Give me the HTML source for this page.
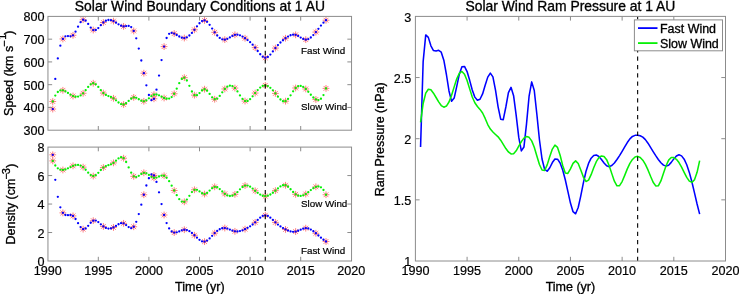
<!DOCTYPE html>
<html lang="en"><head><meta charset="utf-8"><title>Solar Wind Boundary Conditions at 1 AU</title>
<style>html,body{margin:0;padding:0;background:#fff}svg{display:block}</style></head>
<body>
<svg width="739" height="294" viewBox="0 0 739 294" font-family='"Liberation Sans", Arial, Helvetica, sans-serif' fill="#000">
<style>text{stroke:#000;stroke-width:.32px}.t text{stroke-width:.2px}.a{stroke-width:.2px}</style>
<rect width="739" height="294" fill="#fff"/>
<path d="M49.36 109.06h6.8M52.76 105.66v6.8M50.36 106.65l4.81 4.81M50.36 111.46l4.81 -4.81M59.48 38.94h6.8M62.88 35.54v6.8M60.48 36.54l4.81 4.81M60.48 41.34l4.81 -4.81M69.6 35.29h6.8M73 31.89v6.8M70.6 32.88l4.81 4.81M70.6 37.69l4.81 -4.81M79.72 19.75h6.8M83.12 16.35v6.8M80.72 17.35l4.81 4.81M80.72 22.16l4.81 -4.81M89.84 30.03h6.8M93.24 26.63v6.8M90.84 27.63l4.81 4.81M90.84 32.44l4.81 -4.81M99.96 22.5h6.8M103.36 19.1v6.8M100.96 20.09l4.81 4.81M100.96 24.9l4.81 -4.81M110.08 21.12h6.8M113.48 17.72v6.8M111.08 18.72l4.81 4.81M111.08 23.53l4.81 -4.81M120.2 26.38h6.8M123.6 22.98v6.8M121.2 23.97l4.81 4.81M121.2 28.78l4.81 -4.81M130.32 30.95h6.8M133.72 27.55v6.8M131.32 28.54l4.81 4.81M131.32 33.35l4.81 -4.81M140.44 73.2h6.8M143.84 69.8v6.8M141.44 70.8l4.81 4.81M141.44 75.6l4.81 -4.81M150.56 98.78h6.8M153.96 95.38v6.8M151.56 96.38l4.81 4.81M151.56 101.18l4.81 -4.81M160.68 46.59h6.8M164.08 43.19v6.8M161.68 44.19l4.81 4.81M161.68 49l4.81 -4.81M170.8 33.55h6.8M174.2 30.15v6.8M171.8 31.15l4.81 4.81M171.8 35.95l4.81 -4.81M180.92 38.03h6.8M184.32 34.63v6.8M181.92 35.62l4.81 4.81M181.92 40.43l4.81 -4.81M191.04 29.8h6.8M194.44 26.4v6.8M192.04 27.4l4.81 4.81M192.04 32.21l4.81 -4.81M201.16 20.44h6.8M204.56 17.04v6.8M202.16 18.04l4.81 4.81M202.16 22.84l4.81 -4.81M211.28 32.32h6.8M214.68 28.92v6.8M212.28 29.91l4.81 4.81M212.28 34.72l4.81 -4.81M221.4 39.63h6.8M224.8 36.23v6.8M222.4 37.22l4.81 4.81M222.4 42.03l4.81 -4.81M231.52 34.83h6.8M234.92 31.43v6.8M232.52 32.42l4.81 4.81M232.52 37.23l4.81 -4.81M241.64 38.25h6.8M245.04 34.85v6.8M242.64 35.85l4.81 4.81M242.64 40.66l4.81 -4.81M251.76 47.62h6.8M255.16 44.22v6.8M252.76 45.22l4.81 4.81M252.76 50.02l4.81 -4.81M261.88 57.76h6.8M265.28 54.36v6.8M262.88 55.36l4.81 4.81M262.88 60.16l4.81 -4.81M272 48.08h6.8M275.4 44.68v6.8M273 45.67l4.81 4.81M273 50.48l4.81 -4.81M282.12 38.25h6.8M285.52 34.85v6.8M283.12 35.85l4.81 4.81M283.12 40.66l4.81 -4.81M292.24 34.83h6.8M295.64 31.43v6.8M293.24 32.42l4.81 4.81M293.24 37.23l4.81 -4.81M302.36 39.63h6.8M305.76 36.23v6.8M303.36 37.22l4.81 4.81M303.36 42.03l4.81 -4.81M312.48 32.09h6.8M315.88 28.69v6.8M313.48 29.68l4.81 4.81M313.48 34.49l4.81 -4.81M322.6 20.21h6.8M326 16.81v6.8M323.6 17.81l4.81 4.81M323.6 22.62l4.81 -4.81" stroke="#ff0000" stroke-width="0.5" fill="none"/>
<path d="M49.36 101.52h6.8M52.76 98.12v6.8M50.36 99.12l4.81 4.81M50.36 103.93l4.81 -4.81M59.48 90.33h6.8M62.88 86.93v6.8M60.48 87.93l4.81 4.81M60.48 92.73l4.81 -4.81M69.6 96.04h6.8M73 92.64v6.8M70.6 93.64l4.81 4.81M70.6 98.44l4.81 -4.81M79.72 93.3h6.8M83.12 89.9v6.8M80.72 90.9l4.81 4.81M80.72 95.7l4.81 -4.81M89.84 83.25h6.8M93.24 79.85v6.8M90.84 80.85l4.81 4.81M90.84 85.65l4.81 -4.81M99.96 93.07h6.8M103.36 89.67v6.8M100.96 90.67l4.81 4.81M100.96 95.47l4.81 -4.81M110.08 98.32h6.8M113.48 94.92v6.8M111.08 95.92l4.81 4.81M111.08 100.73l4.81 -4.81M120.2 104.49h6.8M123.6 101.09v6.8M121.2 102.09l4.81 4.81M121.2 106.89l4.81 -4.81M130.32 97.41h6.8M133.72 94.01v6.8M131.32 95.01l4.81 4.81M131.32 99.81l4.81 -4.81M140.44 101.29h6.8M143.84 97.89v6.8M141.44 98.89l4.81 4.81M141.44 103.7l4.81 -4.81M150.56 94.67h6.8M153.96 91.27v6.8M151.56 92.27l4.81 4.81M151.56 97.07l4.81 -4.81M160.68 97.98h6.8M164.08 94.58v6.8M161.68 95.58l4.81 4.81M161.68 100.39l4.81 -4.81M170.8 93.76h6.8M174.2 90.36v6.8M171.8 91.35l4.81 4.81M171.8 96.16l4.81 -4.81M180.92 77.65h6.8M184.32 74.25v6.8M181.92 75.25l4.81 4.81M181.92 80.06l4.81 -4.81M191.04 95.13h6.8M194.44 91.73v6.8M192.04 92.72l4.81 4.81M192.04 97.53l4.81 -4.81M201.16 89.19h6.8M204.56 85.79v6.8M202.16 86.78l4.81 4.81M202.16 91.59l4.81 -4.81M211.28 99.24h6.8M214.68 95.84v6.8M212.28 96.83l4.81 4.81M212.28 101.64l4.81 -4.81M221.4 88.96h6.8M224.8 85.56v6.8M222.4 86.56l4.81 4.81M222.4 91.36l4.81 -4.81M231.52 88.05h6.8M234.92 84.65v6.8M232.52 85.64l4.81 4.81M232.52 90.45l4.81 -4.81M241.64 101.06h6.8M245.04 97.66v6.8M242.64 98.66l4.81 4.81M242.64 103.47l4.81 -4.81M251.76 93.07h6.8M255.16 89.67v6.8M252.76 90.67l4.81 4.81M252.76 95.47l4.81 -4.81M261.88 85.4h6.8M265.28 82v6.8M262.88 82.99l4.81 4.81M262.88 87.8l4.81 -4.81M272 93.41h6.8M275.4 90.01v6.8M273 91.01l4.81 4.81M273 95.82l4.81 -4.81M282.12 101.18h6.8M285.52 97.78v6.8M283.12 98.77l4.81 4.81M283.12 103.58l4.81 -4.81M292.24 87.98h6.8M295.64 84.58v6.8M293.24 85.57l4.81 4.81M293.24 90.38l4.81 -4.81M302.36 88.96h6.8M305.76 85.56v6.8M303.36 86.56l4.81 4.81M303.36 91.36l4.81 -4.81M312.48 99.47h6.8M315.88 96.07v6.8M313.48 97.06l4.81 4.81M313.48 101.87l4.81 -4.81M322.6 88.39h6.8M326 84.99v6.8M323.6 85.98l4.81 4.81M323.6 90.79l4.81 -4.81" stroke="#ff0000" stroke-width="0.5" fill="none"/>
<g fill="#0000ff"><circle cx="52.76" cy="109.06" r="1.15"/><circle cx="55.29" cy="78.92" r="1.15"/><circle cx="57.82" cy="58.4" r="1.15"/><circle cx="60.35" cy="45.68" r="1.15"/><circle cx="62.88" cy="38.94" r="1.15"/><circle cx="65.41" cy="36.35" r="1.15"/><circle cx="67.94" cy="36.1" r="1.15"/><circle cx="70.47" cy="36.35" r="1.15"/><circle cx="73" cy="35.29" r="1.15"/><circle cx="75.53" cy="31.69" r="1.15"/><circle cx="78.06" cy="26.72" r="1.15"/><circle cx="80.59" cy="22.15" r="1.15"/><circle cx="83.12" cy="19.75" r="1.15"/><circle cx="85.65" cy="20.72" r="1.15"/><circle cx="88.18" cy="23.9" r="1.15"/><circle cx="90.71" cy="27.58" r="1.15"/><circle cx="93.24" cy="30.03" r="1.15"/><circle cx="95.77" cy="30" r="1.15"/><circle cx="98.3" cy="28.05" r="1.15"/><circle cx="100.83" cy="25.21" r="1.15"/><circle cx="103.36" cy="22.5" r="1.15"/><circle cx="105.89" cy="20.75" r="1.15"/><circle cx="108.42" cy="20.02" r="1.15"/><circle cx="110.95" cy="20.19" r="1.15"/><circle cx="113.48" cy="21.12" r="1.15"/><circle cx="116.01" cy="22.64" r="1.15"/><circle cx="118.54" cy="24.32" r="1.15"/><circle cx="121.07" cy="25.72" r="1.15"/><circle cx="123.6" cy="26.38" r="1.15"/><circle cx="126.13" cy="26.12" r="1.15"/><circle cx="128.66" cy="25.94" r="1.15"/><circle cx="131.19" cy="27.12" r="1.15"/><circle cx="133.72" cy="30.95" r="1.15"/><circle cx="136.25" cy="38.31" r="1.15"/><circle cx="138.78" cy="48.53" r="1.15"/><circle cx="141.31" cy="60.52" r="1.15"/><circle cx="143.84" cy="73.2" r="1.15"/><circle cx="146.37" cy="85.32" r="1.15"/><circle cx="148.9" cy="95" r="1.15"/><circle cx="151.43" cy="100.17" r="1.15"/><circle cx="153.96" cy="98.78" r="1.15"/><circle cx="156.49" cy="89.71" r="1.15"/><circle cx="159.02" cy="75.61" r="1.15"/><circle cx="161.55" cy="60.04" r="1.15"/><circle cx="164.08" cy="46.59" r="1.15"/><circle cx="166.61" cy="38.02" r="1.15"/><circle cx="169.14" cy="33.85" r="1.15"/><circle cx="171.67" cy="32.79" r="1.15"/><circle cx="174.2" cy="33.55" r="1.15"/><circle cx="176.73" cy="34.98" r="1.15"/><circle cx="179.26" cy="36.49" r="1.15"/><circle cx="181.79" cy="37.66" r="1.15"/><circle cx="184.32" cy="38.03" r="1.15"/><circle cx="186.85" cy="37.28" r="1.15"/><circle cx="189.38" cy="35.51" r="1.15"/><circle cx="191.91" cy="32.95" r="1.15"/><circle cx="194.44" cy="29.8" r="1.15"/><circle cx="196.97" cy="26.37" r="1.15"/><circle cx="199.5" cy="23.23" r="1.15"/><circle cx="202.03" cy="21.04" r="1.15"/><circle cx="204.56" cy="20.44" r="1.15"/><circle cx="207.09" cy="21.87" r="1.15"/><circle cx="209.62" cy="24.81" r="1.15"/><circle cx="212.15" cy="28.54" r="1.15"/><circle cx="214.68" cy="32.32" r="1.15"/><circle cx="217.21" cy="35.51" r="1.15"/><circle cx="219.74" cy="37.88" r="1.15"/><circle cx="222.27" cy="39.3" r="1.15"/><circle cx="224.8" cy="39.63" r="1.15"/><circle cx="227.33" cy="38.85" r="1.15"/><circle cx="229.86" cy="37.41" r="1.15"/><circle cx="232.39" cy="35.88" r="1.15"/><circle cx="234.92" cy="34.83" r="1.15"/><circle cx="237.45" cy="34.68" r="1.15"/><circle cx="239.98" cy="35.35" r="1.15"/><circle cx="242.51" cy="36.61" r="1.15"/><circle cx="245.04" cy="38.25" r="1.15"/><circle cx="247.57" cy="40.11" r="1.15"/><circle cx="250.1" cy="42.22" r="1.15"/><circle cx="252.63" cy="44.69" r="1.15"/><circle cx="255.16" cy="47.62" r="1.15"/><circle cx="257.69" cy="50.98" r="1.15"/><circle cx="260.22" cy="54.24" r="1.15"/><circle cx="262.75" cy="56.72" r="1.15"/><circle cx="265.28" cy="57.76" r="1.15"/><circle cx="267.81" cy="56.9" r="1.15"/><circle cx="270.34" cy="54.57" r="1.15"/><circle cx="272.87" cy="51.42" r="1.15"/><circle cx="275.4" cy="48.08" r="1.15"/><circle cx="277.93" cy="45.08" r="1.15"/><circle cx="280.46" cy="42.48" r="1.15"/><circle cx="282.99" cy="40.23" r="1.15"/><circle cx="285.52" cy="38.25" r="1.15"/><circle cx="288.05" cy="36.55" r="1.15"/><circle cx="290.58" cy="35.27" r="1.15"/><circle cx="293.11" cy="34.63" r="1.15"/><circle cx="295.64" cy="34.83" r="1.15"/><circle cx="298.17" cy="35.95" r="1.15"/><circle cx="300.7" cy="37.53" r="1.15"/><circle cx="303.23" cy="38.95" r="1.15"/><circle cx="305.76" cy="39.63" r="1.15"/><circle cx="308.29" cy="39.09" r="1.15"/><circle cx="310.82" cy="37.48" r="1.15"/><circle cx="313.35" cy="35.05" r="1.15"/><circle cx="315.88" cy="32.09" r="1.15"/><circle cx="318.41" cy="28.85" r="1.15"/><circle cx="320.94" cy="25.61" r="1.15"/><circle cx="323.47" cy="22.64" r="1.15"/><circle cx="326" cy="20.21" r="1.15"/></g>
<g fill="#06f006"><circle cx="52.76" cy="101.52" r="1.15"/><circle cx="55.29" cy="95.53" r="1.15"/><circle cx="57.82" cy="91.98" r="1.15"/><circle cx="60.35" cy="90.4" r="1.15"/><circle cx="62.88" cy="90.33" r="1.15"/><circle cx="65.41" cy="91.32" r="1.15"/><circle cx="67.94" cy="92.91" r="1.15"/><circle cx="70.47" cy="94.64" r="1.15"/><circle cx="73" cy="96.04" r="1.15"/><circle cx="75.53" cy="96.73" r="1.15"/><circle cx="78.06" cy="96.55" r="1.15"/><circle cx="80.59" cy="95.44" r="1.15"/><circle cx="83.12" cy="93.3" r="1.15"/><circle cx="85.65" cy="90.22" r="1.15"/><circle cx="88.18" cy="86.92" r="1.15"/><circle cx="90.71" cy="84.3" r="1.15"/><circle cx="93.24" cy="83.25" r="1.15"/><circle cx="95.77" cy="84.35" r="1.15"/><circle cx="98.3" cy="86.97" r="1.15"/><circle cx="100.83" cy="90.19" r="1.15"/><circle cx="103.36" cy="93.07" r="1.15"/><circle cx="105.89" cy="94.93" r="1.15"/><circle cx="108.42" cy="96.07" r="1.15"/><circle cx="110.95" cy="97.02" r="1.15"/><circle cx="113.48" cy="98.32" r="1.15"/><circle cx="116.01" cy="100.31" r="1.15"/><circle cx="118.54" cy="102.48" r="1.15"/><circle cx="121.07" cy="104.11" r="1.15"/><circle cx="123.6" cy="104.49" r="1.15"/><circle cx="126.13" cy="103.2" r="1.15"/><circle cx="128.66" cy="100.93" r="1.15"/><circle cx="131.19" cy="98.67" r="1.15"/><circle cx="133.72" cy="97.41" r="1.15"/><circle cx="136.25" cy="97.81" r="1.15"/><circle cx="138.78" cy="99.23" r="1.15"/><circle cx="141.31" cy="100.71" r="1.15"/><circle cx="143.84" cy="101.29" r="1.15"/><circle cx="146.37" cy="100.31" r="1.15"/><circle cx="148.9" cy="98.31" r="1.15"/><circle cx="151.43" cy="96.15" r="1.15"/><circle cx="153.96" cy="94.67" r="1.15"/><circle cx="156.49" cy="94.5" r="1.15"/><circle cx="159.02" cy="95.34" r="1.15"/><circle cx="161.55" cy="96.68" r="1.15"/><circle cx="164.08" cy="97.98" r="1.15"/><circle cx="166.61" cy="98.76" r="1.15"/><circle cx="169.14" cy="98.58" r="1.15"/><circle cx="171.67" cy="97.05" r="1.15"/><circle cx="174.2" cy="93.76" r="1.15"/><circle cx="176.73" cy="88.66" r="1.15"/><circle cx="179.26" cy="83.13" r="1.15"/><circle cx="181.79" cy="78.88" r="1.15"/><circle cx="184.32" cy="77.65" r="1.15"/><circle cx="186.85" cy="80.5" r="1.15"/><circle cx="189.38" cy="85.86" r="1.15"/><circle cx="191.91" cy="91.48" r="1.15"/><circle cx="194.44" cy="95.13" r="1.15"/><circle cx="196.97" cy="95.25" r="1.15"/><circle cx="199.5" cy="93.05" r="1.15"/><circle cx="202.03" cy="90.4" r="1.15"/><circle cx="204.56" cy="89.19" r="1.15"/><circle cx="207.09" cy="90.7" r="1.15"/><circle cx="209.62" cy="93.94" r="1.15"/><circle cx="212.15" cy="97.32" r="1.15"/><circle cx="214.68" cy="99.24" r="1.15"/><circle cx="217.21" cy="98.56" r="1.15"/><circle cx="219.74" cy="95.91" r="1.15"/><circle cx="222.27" cy="92.35" r="1.15"/><circle cx="224.8" cy="88.96" r="1.15"/><circle cx="227.33" cy="86.64" r="1.15"/><circle cx="229.86" cy="85.66" r="1.15"/><circle cx="232.39" cy="86.09" r="1.15"/><circle cx="234.92" cy="88.05" r="1.15"/><circle cx="237.45" cy="91.42" r="1.15"/><circle cx="239.98" cy="95.4" r="1.15"/><circle cx="242.51" cy="98.95" r="1.15"/><circle cx="245.04" cy="101.06" r="1.15"/><circle cx="247.57" cy="101.02" r="1.15"/><circle cx="250.1" cy="99.21" r="1.15"/><circle cx="252.63" cy="96.33" r="1.15"/><circle cx="255.16" cy="93.07" r="1.15"/><circle cx="257.69" cy="90.05" r="1.15"/><circle cx="260.22" cy="87.6" r="1.15"/><circle cx="262.75" cy="85.96" r="1.15"/><circle cx="265.28" cy="85.4" r="1.15"/><circle cx="267.81" cy="86.08" r="1.15"/><circle cx="270.34" cy="87.82" r="1.15"/><circle cx="272.87" cy="90.35" r="1.15"/><circle cx="275.4" cy="93.41" r="1.15"/><circle cx="277.93" cy="96.67" r="1.15"/><circle cx="280.46" cy="99.5" r="1.15"/><circle cx="282.99" cy="101.23" r="1.15"/><circle cx="285.52" cy="101.18" r="1.15"/><circle cx="288.05" cy="98.95" r="1.15"/><circle cx="290.58" cy="95.3" r="1.15"/><circle cx="293.11" cy="91.29" r="1.15"/><circle cx="295.64" cy="87.98" r="1.15"/><circle cx="298.17" cy="86.2" r="1.15"/><circle cx="300.7" cy="85.93" r="1.15"/><circle cx="303.23" cy="86.93" r="1.15"/><circle cx="305.76" cy="88.96" r="1.15"/><circle cx="308.29" cy="91.74" r="1.15"/><circle cx="310.82" cy="94.77" r="1.15"/><circle cx="313.35" cy="97.52" r="1.15"/><circle cx="315.88" cy="99.47" r="1.15"/><circle cx="318.41" cy="100.06" r="1.15"/><circle cx="320.94" cy="98.77" r="1.15"/><circle cx="323.47" cy="95.06" r="1.15"/><circle cx="326" cy="88.39" r="1.15"/></g>
<line x1="265.28" y1="130.2" x2="265.28" y2="16.4" stroke="#000" stroke-width="1.1" stroke-dasharray="4.3 4.04"/>
<path d="M98.3 130.2v-4.2M98.3 16.4v4.2M148.9 130.2v-4.2M148.9 16.4v4.2M199.5 130.2v-4.2M199.5 16.4v4.2M250.1 130.2v-4.2M250.1 16.4v4.2M300.7 130.2v-4.2M300.7 16.4v4.2M47.95 107.44h4.2M351.55 107.44h-4.2M47.95 84.68h4.2M351.55 84.68h-4.2M47.95 61.92h4.2M351.55 61.92h-4.2M47.95 39.16h4.2M351.55 39.16h-4.2" stroke="#8c8c8c" stroke-width="1" fill="none"/>
<rect x="47.95" y="16.4" width="303.6" height="113.8" fill="none" stroke="#8c8c8c" stroke-width="1"/>
<g class="t">
<text x="44.55" y="135.25" font-size="12.6" text-anchor="end">300</text>
<text x="44.55" y="112.49" font-size="12.6" text-anchor="end">400</text>
<text x="44.55" y="89.73" font-size="12.6" text-anchor="end">500</text>
<text x="44.55" y="66.97" font-size="12.6" text-anchor="end">600</text>
<text x="44.55" y="44.21" font-size="12.6" text-anchor="end">700</text>
<text x="44.55" y="21.45" font-size="12.6" text-anchor="end">800</text>
</g>
<text x="199.9" y="10.8" font-size="13.9" text-anchor="middle">Solar Wind Boundary Conditions at 1 AU</text>
<text x="301" y="53.6" font-size="9.8" class="a">Fast Wind</text>
<text x="301" y="109.5" font-size="9.8" class="a">Slow Wind</text>
<text transform="translate(13.2 73.2) rotate(-90)" font-size="12.5" text-anchor="middle">Speed (km s<tspan font-size="11" dy="-5.3" dx="-1">−</tspan><tspan font-size="10" dy="-1.8" dx="0.7">1</tspan><tspan dy="7.1" dx="-0.6">)</tspan></text>
<path d="M49.36 154.81h6.8M52.76 151.41v6.8M50.36 152.4l4.81 4.81M50.36 157.21l4.81 -4.81M59.48 212.87h6.8M62.88 209.47v6.8M60.48 210.47l4.81 4.81M60.48 215.28l4.81 -4.81M69.6 215.92h6.8M73 212.52v6.8M70.6 213.51l4.81 4.81M70.6 218.32l4.81 -4.81M79.72 229.16h6.8M83.12 225.76v6.8M80.72 226.76l4.81 4.81M80.72 231.56l4.81 -4.81M89.84 220.66h6.8M93.24 217.26v6.8M90.84 218.26l4.81 4.81M90.84 223.07l4.81 -4.81M99.96 226.47h6.8M103.36 223.07v6.8M100.96 224.06l4.81 4.81M100.96 228.87l4.81 -4.81M110.08 227.46h6.8M113.48 224.06v6.8M111.08 225.06l4.81 4.81M111.08 229.86l4.81 -4.81M120.2 223.35h6.8M123.6 219.95v6.8M121.2 220.95l4.81 4.81M121.2 225.76l4.81 -4.81M130.32 226.75h6.8M133.72 223.35v6.8M131.32 224.35l4.81 4.81M131.32 229.16l4.81 -4.81M140.44 194.74h6.8M143.84 191.34v6.8M141.44 192.34l4.81 4.81M141.44 197.15l4.81 -4.81M150.56 175.41h6.8M153.96 172.01v6.8M151.56 173.01l4.81 4.81M151.56 177.82l4.81 -4.81M160.68 215h6.8M164.08 211.6v6.8M161.68 212.59l4.81 4.81M161.68 217.4l4.81 -4.81M170.8 232.56h6.8M174.2 229.16v6.8M171.8 230.15l4.81 4.81M171.8 234.96l4.81 -4.81M180.92 229.73h6.8M184.32 226.33v6.8M181.92 227.32l4.81 4.81M181.92 232.13l4.81 -4.81M191.04 235.25h6.8M194.44 231.85v6.8M192.04 232.84l4.81 4.81M192.04 237.65l4.81 -4.81M201.16 241.62h6.8M204.56 238.22v6.8M202.16 239.22l4.81 4.81M202.16 244.03l4.81 -4.81M211.28 233.12h6.8M214.68 229.72v6.8M212.28 230.72l4.81 4.81M212.28 235.53l4.81 -4.81M221.4 228.03h6.8M224.8 224.63v6.8M222.4 225.62l4.81 4.81M222.4 230.43l4.81 -4.81M231.52 231.35h6.8M234.92 227.95v6.8M232.52 228.95l4.81 4.81M232.52 233.76l4.81 -4.81M241.64 229.16h6.8M245.04 225.76v6.8M242.64 226.76l4.81 4.81M242.64 231.56l4.81 -4.81M251.76 222.36h6.8M255.16 218.96v6.8M252.76 219.96l4.81 4.81M252.76 224.77l4.81 -4.81M261.88 215.28h6.8M265.28 211.88v6.8M262.88 212.88l4.81 4.81M262.88 217.68l4.81 -4.81M272 222.36h6.8M275.4 218.96v6.8M273 219.96l4.81 4.81M273 224.77l4.81 -4.81M282.12 229.44h6.8M285.52 226.04v6.8M283.12 227.04l4.81 4.81M283.12 231.85l4.81 -4.81M292.24 231.57h6.8M295.64 228.17v6.8M293.24 229.16l4.81 4.81M293.24 233.97l4.81 -4.81M302.36 228.17h6.8M305.76 224.77v6.8M303.36 225.76l4.81 4.81M303.36 230.57l4.81 -4.81M312.48 233.27h6.8M315.88 229.87v6.8M313.48 230.86l4.81 4.81M313.48 235.67l4.81 -4.81M322.6 241.48h6.8M326 238.08v6.8M323.6 239.08l4.81 4.81M323.6 243.88l4.81 -4.81" stroke="#ff0000" stroke-width="0.5" fill="none"/>
<path d="M49.36 160.9h6.8M52.76 157.5v6.8M50.36 158.49l4.81 4.81M50.36 163.3l4.81 -4.81M59.48 169.96h6.8M62.88 166.56v6.8M60.48 167.56l4.81 4.81M60.48 172.36l4.81 -4.81M69.6 165.85h6.8M73 162.45v6.8M70.6 163.45l4.81 4.81M70.6 168.26l4.81 -4.81M79.72 167.13h6.8M83.12 163.73v6.8M80.72 164.72l4.81 4.81M80.72 169.53l4.81 -4.81M89.84 176.05h6.8M93.24 172.65v6.8M90.84 173.65l4.81 4.81M90.84 178.45l4.81 -4.81M99.96 167.55h6.8M103.36 164.15v6.8M100.96 165.15l4.81 4.81M100.96 169.96l4.81 -4.81M110.08 162.88h6.8M113.48 159.48v6.8M111.08 160.47l4.81 4.81M111.08 165.28l4.81 -4.81M120.2 158.21h6.8M123.6 154.81v6.8M121.2 155.8l4.81 4.81M121.2 160.61l4.81 -4.81M130.32 176.33h6.8M133.72 172.93v6.8M131.32 173.93l4.81 4.81M131.32 178.74l4.81 -4.81M140.44 172.79h6.8M143.84 169.39v6.8M141.44 170.39l4.81 4.81M141.44 175.2l4.81 -4.81M150.56 177.89h6.8M153.96 174.49v6.8M151.56 175.49l4.81 4.81M151.56 180.3l4.81 -4.81M160.68 175.77h6.8M164.08 172.37v6.8M161.68 173.36l4.81 4.81M161.68 178.17l4.81 -4.81M170.8 190.5h6.8M174.2 187.1v6.8M171.8 188.09l4.81 4.81M171.8 192.9l4.81 -4.81M180.92 201.83h6.8M184.32 198.43v6.8M181.92 199.42l4.81 4.81M181.92 204.23l4.81 -4.81M191.04 189.79h6.8M194.44 186.39v6.8M192.04 187.38l4.81 4.81M192.04 192.19l4.81 -4.81M201.16 194.04h6.8M204.56 190.64v6.8M202.16 191.63l4.81 4.81M202.16 196.44l4.81 -4.81M211.28 186.81h6.8M214.68 183.41v6.8M212.28 184.41l4.81 4.81M212.28 189.22l4.81 -4.81M221.4 193.82h6.8M224.8 190.42v6.8M222.4 191.42l4.81 4.81M222.4 196.23l4.81 -4.81M231.52 194.32h6.8M234.92 190.92v6.8M232.52 191.92l4.81 4.81M232.52 196.72l4.81 -4.81M241.64 185.54h6.8M245.04 182.14v6.8M242.64 183.13l4.81 4.81M242.64 187.94l4.81 -4.81M251.76 190.78h6.8M255.16 187.38v6.8M252.76 188.37l4.81 4.81M252.76 193.18l4.81 -4.81M261.88 196.16h6.8M265.28 192.76v6.8M262.88 193.76l4.81 4.81M262.88 198.56l4.81 -4.81M272 190.64h6.8M275.4 187.24v6.8M273 188.23l4.81 4.81M273 193.04l4.81 -4.81M282.12 185.26h6.8M285.52 181.86v6.8M283.12 182.85l4.81 4.81M283.12 187.66l4.81 -4.81M292.24 194.32h6.8M295.64 190.92v6.8M293.24 191.92l4.81 4.81M293.24 196.72l4.81 -4.81M302.36 194.04h6.8M305.76 190.64v6.8M303.36 191.63l4.81 4.81M303.36 196.44l4.81 -4.81M312.48 186.81h6.8M315.88 183.41v6.8M313.48 184.41l4.81 4.81M313.48 189.22l4.81 -4.81M322.6 194.74h6.8M326 191.34v6.8M323.6 192.34l4.81 4.81M323.6 197.15l4.81 -4.81" stroke="#ff0000" stroke-width="0.5" fill="none"/>
<g fill="#06f006"><circle cx="52.76" cy="160.9" r="1.15"/><circle cx="55.29" cy="165.48" r="1.15"/><circle cx="57.82" cy="168.32" r="1.15"/><circle cx="60.35" cy="169.7" r="1.15"/><circle cx="62.88" cy="169.96" r="1.15"/><circle cx="65.41" cy="169.39" r="1.15"/><circle cx="67.94" cy="168.31" r="1.15"/><circle cx="70.47" cy="167.03" r="1.15"/><circle cx="73" cy="165.85" r="1.15"/><circle cx="75.53" cy="165.08" r="1.15"/><circle cx="78.06" cy="164.9" r="1.15"/><circle cx="80.59" cy="165.53" r="1.15"/><circle cx="83.12" cy="167.13" r="1.15"/><circle cx="85.65" cy="169.73" r="1.15"/><circle cx="88.18" cy="172.64" r="1.15"/><circle cx="90.71" cy="175.03" r="1.15"/><circle cx="93.24" cy="176.05" r="1.15"/><circle cx="95.77" cy="175.13" r="1.15"/><circle cx="98.3" cy="172.83" r="1.15"/><circle cx="100.83" cy="170.02" r="1.15"/><circle cx="103.36" cy="167.55" r="1.15"/><circle cx="105.89" cy="166.04" r="1.15"/><circle cx="108.42" cy="165.14" r="1.15"/><circle cx="110.95" cy="164.28" r="1.15"/><circle cx="113.48" cy="162.88" r="1.15"/><circle cx="116.01" cy="160.65" r="1.15"/><circle cx="118.54" cy="158.4" r="1.15"/><circle cx="121.07" cy="157.22" r="1.15"/><circle cx="123.6" cy="158.21" r="1.15"/><circle cx="126.13" cy="161.99" r="1.15"/><circle cx="128.66" cy="167.38" r="1.15"/><circle cx="131.19" cy="172.71" r="1.15"/><circle cx="133.72" cy="176.33" r="1.15"/><circle cx="136.25" cy="177.09" r="1.15"/><circle cx="138.78" cy="175.85" r="1.15"/><circle cx="141.31" cy="173.96" r="1.15"/><circle cx="143.84" cy="172.79" r="1.15"/><circle cx="146.37" cy="173.31" r="1.15"/><circle cx="148.9" cy="174.97" r="1.15"/><circle cx="151.43" cy="176.81" r="1.15"/><circle cx="153.96" cy="177.89" r="1.15"/><circle cx="156.49" cy="177.58" r="1.15"/><circle cx="159.02" cy="176.5" r="1.15"/><circle cx="161.55" cy="175.58" r="1.15"/><circle cx="164.08" cy="175.77" r="1.15"/><circle cx="166.61" cy="177.74" r="1.15"/><circle cx="169.14" cy="181.21" r="1.15"/><circle cx="171.67" cy="185.64" r="1.15"/><circle cx="174.2" cy="190.5" r="1.15"/><circle cx="176.73" cy="195.22" r="1.15"/><circle cx="179.26" cy="199.14" r="1.15"/><circle cx="181.79" cy="201.57" r="1.15"/><circle cx="184.32" cy="201.83" r="1.15"/><circle cx="186.85" cy="199.56" r="1.15"/><circle cx="189.38" cy="195.85" r="1.15"/><circle cx="191.91" cy="192.12" r="1.15"/><circle cx="194.44" cy="189.79" r="1.15"/><circle cx="196.97" cy="189.83" r="1.15"/><circle cx="199.5" cy="191.4" r="1.15"/><circle cx="202.03" cy="193.23" r="1.15"/><circle cx="204.56" cy="194.04" r="1.15"/><circle cx="207.09" cy="192.92" r="1.15"/><circle cx="209.62" cy="190.61" r="1.15"/><circle cx="212.15" cy="188.2" r="1.15"/><circle cx="214.68" cy="186.81" r="1.15"/><circle cx="217.21" cy="187.25" r="1.15"/><circle cx="219.74" cy="189.07" r="1.15"/><circle cx="222.27" cy="191.51" r="1.15"/><circle cx="224.8" cy="193.82" r="1.15"/><circle cx="227.33" cy="195.38" r="1.15"/><circle cx="229.86" cy="196.01" r="1.15"/><circle cx="232.39" cy="195.67" r="1.15"/><circle cx="234.92" cy="194.32" r="1.15"/><circle cx="237.45" cy="192.04" r="1.15"/><circle cx="239.98" cy="189.37" r="1.15"/><circle cx="242.51" cy="186.98" r="1.15"/><circle cx="245.04" cy="185.54" r="1.15"/><circle cx="247.57" cy="185.53" r="1.15"/><circle cx="250.1" cy="186.7" r="1.15"/><circle cx="252.63" cy="188.59" r="1.15"/><circle cx="255.16" cy="190.78" r="1.15"/><circle cx="257.69" cy="192.85" r="1.15"/><circle cx="260.22" cy="194.57" r="1.15"/><circle cx="262.75" cy="195.74" r="1.15"/><circle cx="265.28" cy="196.16" r="1.15"/><circle cx="267.81" cy="195.71" r="1.15"/><circle cx="270.34" cy="194.51" r="1.15"/><circle cx="272.87" cy="192.76" r="1.15"/><circle cx="275.4" cy="190.64" r="1.15"/><circle cx="277.93" cy="188.39" r="1.15"/><circle cx="280.46" cy="186.43" r="1.15"/><circle cx="282.99" cy="185.24" r="1.15"/><circle cx="285.52" cy="185.26" r="1.15"/><circle cx="288.05" cy="186.76" r="1.15"/><circle cx="290.58" cy="189.25" r="1.15"/><circle cx="293.11" cy="192" r="1.15"/><circle cx="295.64" cy="194.32" r="1.15"/><circle cx="298.17" cy="195.63" r="1.15"/><circle cx="300.7" cy="195.93" r="1.15"/><circle cx="303.23" cy="195.35" r="1.15"/><circle cx="305.76" cy="194.04" r="1.15"/><circle cx="308.29" cy="192.16" r="1.15"/><circle cx="310.82" cy="190.08" r="1.15"/><circle cx="313.35" cy="188.17" r="1.15"/><circle cx="315.88" cy="186.81" r="1.15"/><circle cx="318.41" cy="186.41" r="1.15"/><circle cx="320.94" cy="187.34" r="1.15"/><circle cx="323.47" cy="189.99" r="1.15"/><circle cx="326" cy="194.74" r="1.15"/></g>
<g fill="#0000ff"><circle cx="52.76" cy="154.81" r="1.15"/><circle cx="55.29" cy="179.8" r="1.15"/><circle cx="57.82" cy="196.79" r="1.15"/><circle cx="60.35" cy="207.31" r="1.15"/><circle cx="62.88" cy="212.87" r="1.15"/><circle cx="65.41" cy="214.99" r="1.15"/><circle cx="67.94" cy="215.19" r="1.15"/><circle cx="70.47" cy="215" r="1.15"/><circle cx="73" cy="215.92" r="1.15"/><circle cx="75.53" cy="218.98" r="1.15"/><circle cx="78.06" cy="223.19" r="1.15"/><circle cx="80.59" cy="227.08" r="1.15"/><circle cx="83.12" cy="229.16" r="1.15"/><circle cx="85.65" cy="228.43" r="1.15"/><circle cx="88.18" cy="225.82" r="1.15"/><circle cx="90.71" cy="222.76" r="1.15"/><circle cx="93.24" cy="220.66" r="1.15"/><circle cx="95.77" cy="220.57" r="1.15"/><circle cx="98.3" cy="222.05" r="1.15"/><circle cx="100.83" cy="224.29" r="1.15"/><circle cx="103.36" cy="226.47" r="1.15"/><circle cx="105.89" cy="227.93" r="1.15"/><circle cx="108.42" cy="228.56" r="1.15"/><circle cx="110.95" cy="228.39" r="1.15"/><circle cx="113.48" cy="227.46" r="1.15"/><circle cx="116.01" cy="225.9" r="1.15"/><circle cx="118.54" cy="224.26" r="1.15"/><circle cx="121.07" cy="223.2" r="1.15"/><circle cx="123.6" cy="223.35" r="1.15"/><circle cx="126.13" cy="225.03" r="1.15"/><circle cx="128.66" cy="227.12" r="1.15"/><circle cx="131.19" cy="228.18" r="1.15"/><circle cx="133.72" cy="226.75" r="1.15"/><circle cx="136.25" cy="221.81" r="1.15"/><circle cx="138.78" cy="214.06" r="1.15"/><circle cx="141.31" cy="204.66" r="1.15"/><circle cx="143.84" cy="194.74" r="1.15"/><circle cx="146.37" cy="185.5" r="1.15"/><circle cx="148.9" cy="178.27" r="1.15"/><circle cx="151.43" cy="174.44" r="1.15"/><circle cx="153.96" cy="175.41" r="1.15"/><circle cx="156.49" cy="181.94" r="1.15"/><circle cx="159.02" cy="192.29" r="1.15"/><circle cx="161.55" cy="204.1" r="1.15"/><circle cx="164.08" cy="215" r="1.15"/><circle cx="166.61" cy="223.1" r="1.15"/><circle cx="169.14" cy="228.41" r="1.15"/><circle cx="171.67" cy="231.4" r="1.15"/><circle cx="174.2" cy="232.56" r="1.15"/><circle cx="176.73" cy="232.37" r="1.15"/><circle cx="179.26" cy="231.43" r="1.15"/><circle cx="181.79" cy="230.35" r="1.15"/><circle cx="184.32" cy="229.73" r="1.15"/><circle cx="186.85" cy="230.04" r="1.15"/><circle cx="189.38" cy="231.21" r="1.15"/><circle cx="191.91" cy="233.02" r="1.15"/><circle cx="194.44" cy="235.25" r="1.15"/><circle cx="196.97" cy="237.65" r="1.15"/><circle cx="199.5" cy="239.8" r="1.15"/><circle cx="202.03" cy="241.28" r="1.15"/><circle cx="204.56" cy="241.62" r="1.15"/><circle cx="207.09" cy="240.56" r="1.15"/><circle cx="209.62" cy="238.44" r="1.15"/><circle cx="212.15" cy="235.79" r="1.15"/><circle cx="214.68" cy="233.12" r="1.15"/><circle cx="217.21" cy="230.89" r="1.15"/><circle cx="219.74" cy="229.24" r="1.15"/><circle cx="222.27" cy="228.26" r="1.15"/><circle cx="224.8" cy="228.03" r="1.15"/><circle cx="227.33" cy="228.55" r="1.15"/><circle cx="229.86" cy="229.54" r="1.15"/><circle cx="232.39" cy="230.6" r="1.15"/><circle cx="234.92" cy="231.35" r="1.15"/><circle cx="237.45" cy="231.51" r="1.15"/><circle cx="239.98" cy="231.11" r="1.15"/><circle cx="242.51" cy="230.29" r="1.15"/><circle cx="245.04" cy="229.16" r="1.15"/><circle cx="247.57" cy="227.83" r="1.15"/><circle cx="250.1" cy="226.29" r="1.15"/><circle cx="252.63" cy="224.48" r="1.15"/><circle cx="255.16" cy="222.36" r="1.15"/><circle cx="257.69" cy="219.97" r="1.15"/><circle cx="260.22" cy="217.68" r="1.15"/><circle cx="262.75" cy="215.96" r="1.15"/><circle cx="265.28" cy="215.28" r="1.15"/><circle cx="267.81" cy="215.94" r="1.15"/><circle cx="270.34" cy="217.64" r="1.15"/><circle cx="272.87" cy="219.94" r="1.15"/><circle cx="275.4" cy="222.36" r="1.15"/><circle cx="277.93" cy="224.54" r="1.15"/><circle cx="280.46" cy="226.43" r="1.15"/><circle cx="282.99" cy="228.06" r="1.15"/><circle cx="285.52" cy="229.44" r="1.15"/><circle cx="288.05" cy="230.59" r="1.15"/><circle cx="290.58" cy="231.41" r="1.15"/><circle cx="293.11" cy="231.78" r="1.15"/><circle cx="295.64" cy="231.57" r="1.15"/><circle cx="298.17" cy="230.75" r="1.15"/><circle cx="300.7" cy="229.64" r="1.15"/><circle cx="303.23" cy="228.65" r="1.15"/><circle cx="305.76" cy="228.17" r="1.15"/><circle cx="308.29" cy="228.51" r="1.15"/><circle cx="310.82" cy="229.6" r="1.15"/><circle cx="313.35" cy="231.25" r="1.15"/><circle cx="315.88" cy="233.27" r="1.15"/><circle cx="318.41" cy="235.48" r="1.15"/><circle cx="320.94" cy="237.71" r="1.15"/><circle cx="323.47" cy="239.77" r="1.15"/><circle cx="326" cy="241.48" r="1.15"/></g>
<line x1="265.28" y1="261" x2="265.28" y2="147.1" stroke="#000" stroke-width="1.1" stroke-dasharray="4.3 4.04"/>
<path d="M98.3 261v-4.2M98.3 147.1v4.2M148.9 261v-4.2M148.9 147.1v4.2M199.5 261v-4.2M199.5 147.1v4.2M250.1 261v-4.2M250.1 147.1v4.2M300.7 261v-4.2M300.7 147.1v4.2M47.95 232.53h4.2M351.55 232.53h-4.2M47.95 204.05h4.2M351.55 204.05h-4.2M47.95 175.57h4.2M351.55 175.57h-4.2" stroke="#8c8c8c" stroke-width="1" fill="none"/>
<rect x="47.95" y="147.1" width="303.6" height="113.9" fill="none" stroke="#8c8c8c" stroke-width="1"/>
<g class="t">
<text x="47.7" y="274.8" font-size="12.6" text-anchor="middle">1990</text>
<text x="98.3" y="274.8" font-size="12.6" text-anchor="middle">1995</text>
<text x="148.9" y="274.8" font-size="12.6" text-anchor="middle">2000</text>
<text x="199.5" y="274.8" font-size="12.6" text-anchor="middle">2005</text>
<text x="250.1" y="274.8" font-size="12.6" text-anchor="middle">2010</text>
<text x="300.7" y="274.8" font-size="12.6" text-anchor="middle">2015</text>
<text x="351.3" y="274.8" font-size="12.6" text-anchor="middle">2020</text>
<text x="44.55" y="266.05" font-size="12.6" text-anchor="end">0</text>
<text x="44.55" y="237.57" font-size="12.6" text-anchor="end">2</text>
<text x="44.55" y="209.1" font-size="12.6" text-anchor="end">4</text>
<text x="44.55" y="180.62" font-size="12.6" text-anchor="end">6</text>
<text x="44.55" y="152.15" font-size="12.6" text-anchor="end">8</text>
</g>
<text x="301" y="207.2" font-size="9.8" class="a">Slow Wind</text>
<text x="301" y="254.3" font-size="9.8" class="a">Fast Wind</text>
<text transform="translate(15.3 204) rotate(-90)" font-size="12.5" text-anchor="middle">Density (cm<tspan font-size="11" dy="-5.3" dx="-1">−</tspan><tspan font-size="11" dy="-0.3" dx="-1.2">3</tspan><tspan dy="5.6" dx="0.6">)</tspan></text>
<text x="199.8" y="291.2" font-size="12.5" text-anchor="middle">Time (yr)</text>
<polyline points="420.57,147.08 423.15,61.6 425.74,34.93 428.32,37.37 430.9,45.81 433.49,50.52 436.07,51.06 438.66,50.37 441.24,52.15 443.83,60.21 446.41,74.5 448.99,90.98 451.58,101.33 454.16,98.08 456.75,86.36 459.33,74.19 461.91,66.78 464.5,66.41 467.08,71.57 469.67,80.33 472.25,90 474.84,97.12 477.42,100.3 480,99.25 482.59,93.94 485.17,85.33 487.76,77.11 490.34,73.12 492.92,76.9 495.51,90.06 498.09,106.82 500.68,119.18 503.26,119.63 505.85,106.99 508.43,92.62 511.01,87.34 513.6,95.71 516.18,115.43 518.77,137.43 521.35,150.92 523.93,147.04 526.52,123.87 529.1,96.05 531.69,81.9 534.27,90.47 536.86,114.28 539.44,139.75 542.02,158.99 544.61,169.28 547.19,171.16 549.78,167.73 552.36,162.57 554.94,158.95 557.53,159.17 560.11,163.03 562.7,170.05 565.28,179.78 567.87,191.43 570.45,203.06 573.03,211.67 575.62,213.78 578.2,207.47 580.79,195.82 583.37,182.82 585.96,171.51 588.54,163.4 591.12,158.22 593.71,155.48 596.29,154.92 598.88,156.47 601.46,159.51 604.04,163.06 606.63,165.84 609.21,166.65 611.8,165.53 614.38,162.97 616.97,159.52 619.55,155.57 622.13,151.28 624.72,146.84 627.3,142.53 629.89,138.83 632.47,136.42 635.05,135.34 637.64,135.23 640.22,135.78 642.81,137.11 645.39,139.59 647.98,143.19 650.56,147.33 653.14,151.57 655.73,155.67 658.31,159.46 660.9,162.74 663.48,165.12 666.06,166.1 668.65,165.19 671.23,162.38 673.82,158.9 676.4,156.06 678.99,154.8 681.57,155.85 684.15,159.19 686.74,164.74 689.32,172.42 691.91,181.97 694.49,192.81 697.07,203.97 699.66,214.1" fill="none" stroke="#0000ff" stroke-width="1.55" stroke-linejoin="round"/>
<polyline points="420.57,122.28 423.15,103.44 425.74,93.18 428.32,89.24 430.9,89.8 433.49,93.16 436.07,97.5 438.66,101.91 441.24,105.53 443.83,107.18 446.41,106.05 448.99,101.99 451.58,95.33 454.16,86.88 456.75,78.86 459.33,73.25 461.91,71.44 464.5,74.2 467.08,80.55 469.67,88.86 472.25,96.97 474.84,102.73 477.42,106.47 480,109.4 482.59,113.04 485.17,118.43 487.76,124.52 490.34,129.08 492.92,132.05 495.51,134.46 498.09,136.82 500.68,140.17 503.26,144.42 505.85,148.59 508.43,151.93 511.01,153.93 513.6,153.77 516.18,150.81 518.77,146.23 521.35,141.59 523.93,138.09 526.52,136.53 529.1,137.34 531.69,140.88 534.27,147.31 536.86,156.04 539.44,164.48 542.02,170.03 544.61,170.5 547.19,164.87 549.78,156.59 552.36,149.11 554.94,145.18 557.53,147.44 560.11,155.19 562.7,165.42 565.28,172.99 567.87,173.48 570.45,168.87 573.03,163.4 575.62,160.85 578.2,163.55 580.79,169.93 583.37,177.11 585.96,181.44 588.54,180.1 591.12,174.7 593.71,167.82 596.29,161.69 598.88,157.69 601.46,155.95 604.04,156.49 606.63,159.66 609.21,165.77 611.8,173.63 614.38,181.17 616.97,185.83 619.55,185.63 622.13,181.56 624.72,175.4 627.3,168.91 629.89,163.45 632.47,159.45 635.05,157.05 637.64,156.34 640.22,157.44 642.81,160.18 645.39,164.42 647.98,169.95 650.56,176.31 653.14,182.19 655.73,185.92 658.31,185.77 660.9,180.9 663.48,173.36 666.06,165.74 668.65,160.12 671.23,157.57 673.82,157.53 676.4,159.28 678.99,162.55 681.57,167.1 684.15,172.35 686.74,177.42 689.32,181.17 691.91,182.37 694.49,179.69 697.07,172.35 699.66,160.7" fill="none" stroke="#06f006" stroke-width="1.55" stroke-linejoin="round"/>
<line x1="637.64" y1="261" x2="637.64" y2="16.4" stroke="#000" stroke-width="1.1" stroke-dasharray="4.3 4.04"/>
<path d="M467.08 261v-4.2M467.08 16.4v4.2M518.77 261v-4.2M518.77 16.4v4.2M570.45 261v-4.2M570.45 16.4v4.2M622.13 261v-4.2M622.13 16.4v4.2M673.82 261v-4.2M673.82 16.4v4.2M415.4 199.85h4.2M725.5 199.85h-4.2M415.4 138.7h4.2M725.5 138.7h-4.2M415.4 77.55h4.2M725.5 77.55h-4.2" stroke="#8c8c8c" stroke-width="1" fill="none"/>
<rect x="415.4" y="16.4" width="310.1" height="244.6" fill="none" stroke="#8c8c8c" stroke-width="1"/>
<g class="t">
<text x="415.4" y="274.8" font-size="12.6" text-anchor="middle">1990</text>
<text x="467.08" y="274.8" font-size="12.6" text-anchor="middle">1995</text>
<text x="518.77" y="274.8" font-size="12.6" text-anchor="middle">2000</text>
<text x="570.45" y="274.8" font-size="12.6" text-anchor="middle">2005</text>
<text x="622.13" y="274.8" font-size="12.6" text-anchor="middle">2010</text>
<text x="673.82" y="274.8" font-size="12.6" text-anchor="middle">2015</text>
<text x="725.5" y="274.8" font-size="12.6" text-anchor="middle">2020</text>
<text x="411.2" y="265.75" font-size="12.6" text-anchor="end">1</text>
<text x="411.2" y="205.3" font-size="12.6" text-anchor="end">1.5</text>
<text x="411.2" y="144.15" font-size="12.6" text-anchor="end">2</text>
<text x="411.2" y="83" font-size="12.6" text-anchor="end">2.5</text>
<text x="411.2" y="21.85" font-size="12.6" text-anchor="end">3</text>
</g>
<text x="570.4" y="10.8" font-size="13.9" text-anchor="middle">Solar Wind Ram Pressure at 1 AU</text>
<text x="570.4" y="291.2" font-size="12.5" text-anchor="middle">Time (yr)</text>
<text transform="translate(383.5 139.3) rotate(-90)" font-size="12.5" text-anchor="middle">Ram Pressure (nPa)</text>
<rect x="634.4" y="19.9" width="88.1" height="30.9" fill="#fff" stroke="#8c8c8c" stroke-width="1"/>
<path d="M638 28.1h19.5" stroke="#0000ff" stroke-width="1.8"/><path d="M638 43.1h19.5" stroke="#06f006" stroke-width="1.8"/>
<text x="660.0" y="32.5" font-size="12.45">Fast Wind</text>
<text x="660.0" y="48.0" font-size="12.45">Slow Wind</text>
</svg>
</body></html>
